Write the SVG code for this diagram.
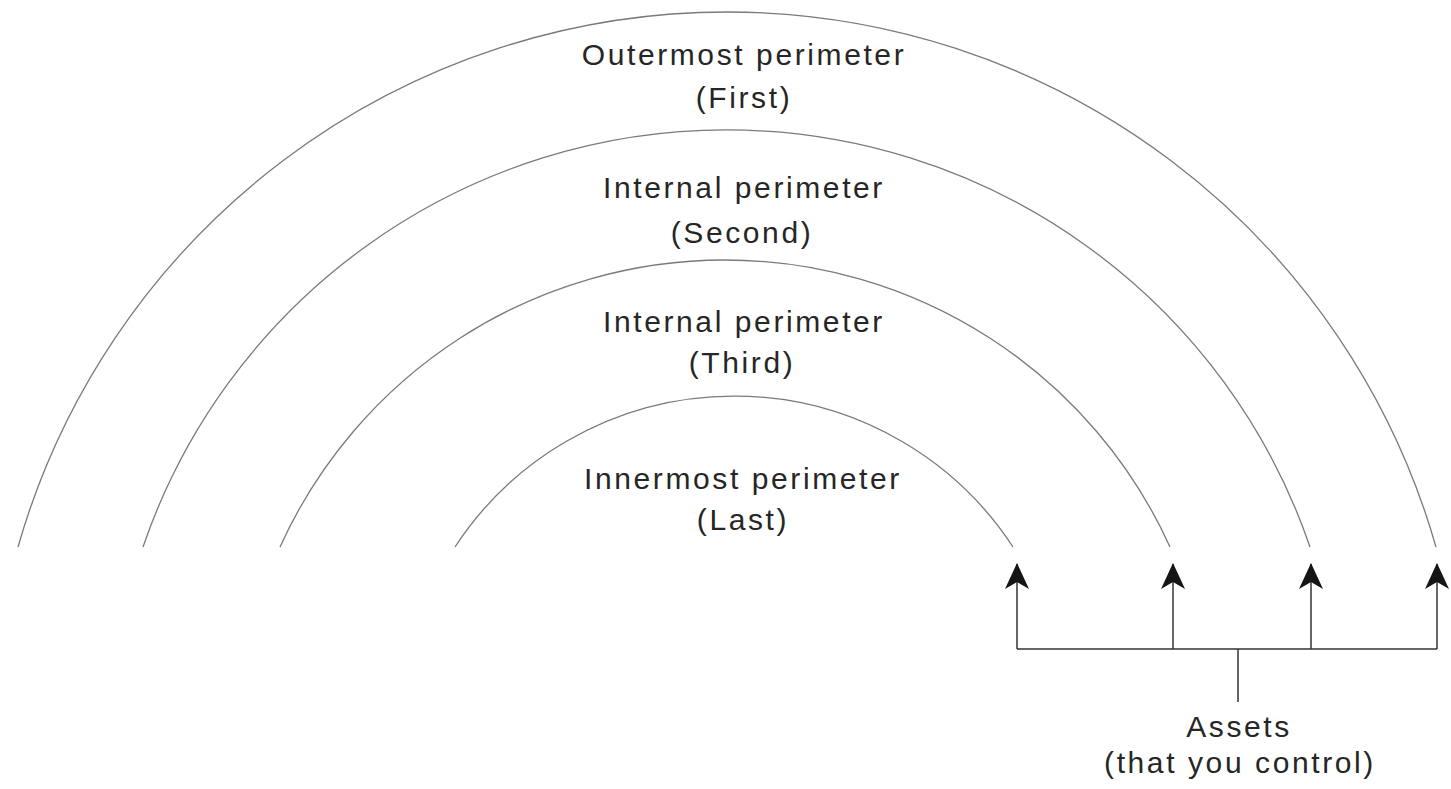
<svg xmlns="http://www.w3.org/2000/svg" width="1451" height="789" viewBox="0 0 1451 789">
  <style>
    .arc { fill: none; stroke: #7a7a7a; stroke-width: 1.3; }
    .lbl { font-family: "Liberation Sans", Arial, sans-serif; font-size: 30px; fill: #262626; text-anchor: middle; letter-spacing: 2.6px; }
    .conn { fill: none; stroke: #333; stroke-width: 1.5; }
  </style>
  <defs>
    <marker id="ah" markerUnits="userSpaceOnUse" markerWidth="26" markerHeight="24" viewBox="0 0 26 24" refX="25" refY="12" orient="auto">
      <path d="M0,0 L26,12 L0,24 L7,12 z" fill="#151515"/>
    </marker>
  </defs>
  <rect width="1451" height="789" fill="#ffffff"/>

  <g id="outermost">
    <path class="arc" d="M 18 547 A 737.3 737.3 0 0 1 1436 547"/>
    <text class="lbl" x="744" y="65">Outermost perimeter</text>
    <text class="lbl" x="744" y="108">(First)</text>
  </g>
  <g id="internal-second">
    <path class="arc" d="M 143 547 A 616.7 616.7 0 0 1 1310 547"/>
    <text class="lbl" x="744" y="198">Internal perimeter</text>
    <text class="lbl" x="742" y="243">(Second)</text>
  </g>
  <g id="internal-third">
    <path class="arc" d="M 280 547 A 488.5 488.5 0 0 1 1170 547"/>
    <text class="lbl" x="744" y="332">Internal perimeter</text>
    <text class="lbl" x="742" y="373">(Third)</text>
  </g>
  <g id="innermost">
    <path class="arc" d="M 455 547 A 333.3 333.3 0 0 1 1013 547"/>
    <text class="lbl" x="743" y="489">Innermost perimeter</text>
    <text class="lbl" x="743" y="530">(Last)</text>
  </g>
  <g id="assets">
    <text class="lbl" x="1239" y="737">Assets</text>
    <text class="lbl" x="1240" y="773">(that you control)</text>
  </g>

  <g id="connectors">
    <line class="conn" x1="1017" y1="649" x2="1437" y2="649"/>
    <line class="conn" x1="1238" y1="649" x2="1238" y2="702"/>
    <line class="conn" x1="1017" y1="649" x2="1017" y2="564" marker-end="url(#ah)"/>
    <line class="conn" x1="1173" y1="649" x2="1173" y2="564" marker-end="url(#ah)"/>
    <line class="conn" x1="1311" y1="649" x2="1311" y2="564" marker-end="url(#ah)"/>
    <line class="conn" x1="1437" y1="649" x2="1437" y2="564" marker-end="url(#ah)"/>
  </g>
</svg>
